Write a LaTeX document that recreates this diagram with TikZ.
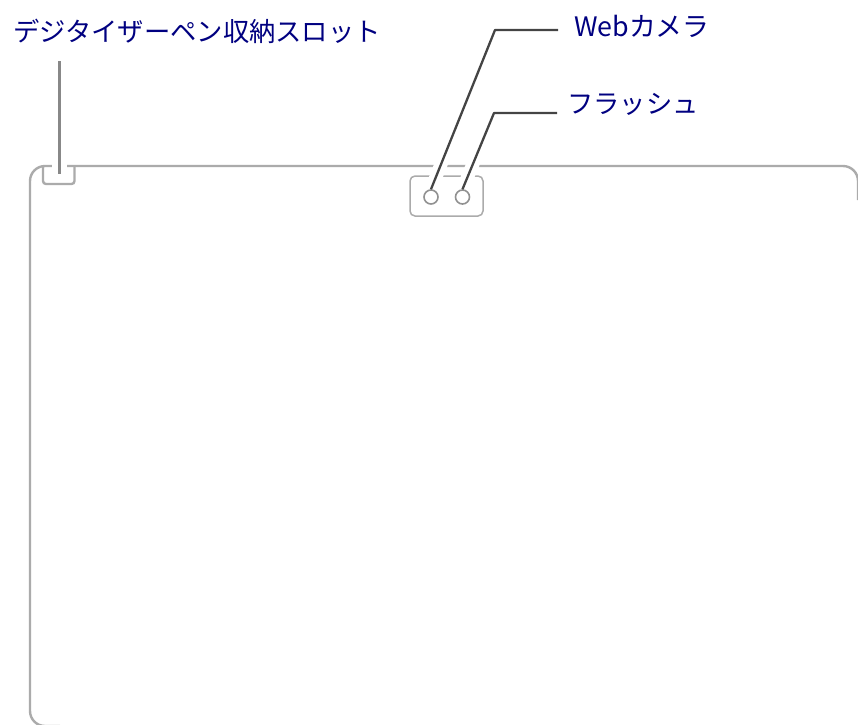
\documentclass[tikz,border=0pt]{standalone}
\usepackage{fontspec}
\setmainfont{Noto Sans CJK JP}[Scale=1]
\definecolor{labelblue}{HTML}{000080}
\definecolor{outlinegray}{HTML}{ABABAB}
\definecolor{leadgray}{HTML}{888888}
\definecolor{leaddark}{HTML}{444444}
\tikzset{
  x=1pt,y=-1pt,
  lbl/.style={font=\fontsize{26.3}{26.3}\selectfont,text=labelblue,inner sep=0pt,anchor=west},
  outl/.style={draw=outlinegray,line width=2.4pt},
  thinl/.style={draw=outlinegray,line width=1.5pt},
  halo/.style={draw=white,line width=13pt,shorten >=6pt},
  lead/.style={draw=leaddark,line width=2.3pt,line join=round},
  lens/.style={circle,draw=outlinegray!85!black,line width=1.6pt,fill=white,minimum size=14pt,inner sep=0pt}
}
\begin{document}
\begin{tikzpicture}
\useasboundingbox (0,0) rectangle (858,724);
% tablet body
\draw[outl,rounded corners=15pt] (60,726) -- (30,726) -- (30,166) -- (858,166) -- (858,200);
% pen slot
\draw[outl,rounded corners=3pt] (43,166) -- (43,184) -- (74.5,184) -- (74.5,166);
% camera module
\draw[thinl,rounded corners=5pt] (410,176) rectangle (483,216);
\node[lens] (webcam) at (431,197) {};
\node[lens] (flash) at (462.5,197) {};
% labels
\node[lbl] (penlabel) at (13,31) {デジタイザーペン収納スロット};
\node[lbl,font=\fontsize{26.8}{26.8}\selectfont] (weblabel) at (574,26) {Webカメラ};
\node[lbl] (flashlabel) at (567,104) {フラッシュ};
% leaders
\coordinate (webstart) at (558,30);
\coordinate (webbend) at (495,30);
\coordinate (flashstart) at (557,113);
\coordinate (flashbend) at (494,113);
\coordinate (pentop) at (59,61);
\coordinate (penend) at (59,174);
\draw[draw=white,line width=15pt] (penend) -- (59,160);
\draw[draw=leadgray,line width=3pt] (pentop) -- (penend);
\draw[halo] (webbend) -- (webcam.north);
\draw[halo] (flashbend) -- (flash.north);
\draw[lead] (webstart) -- (webbend) -- (webcam.north);
\draw[lead] (flashstart) -- (flashbend) -- (flash.north);
\end{tikzpicture}
\end{document}
